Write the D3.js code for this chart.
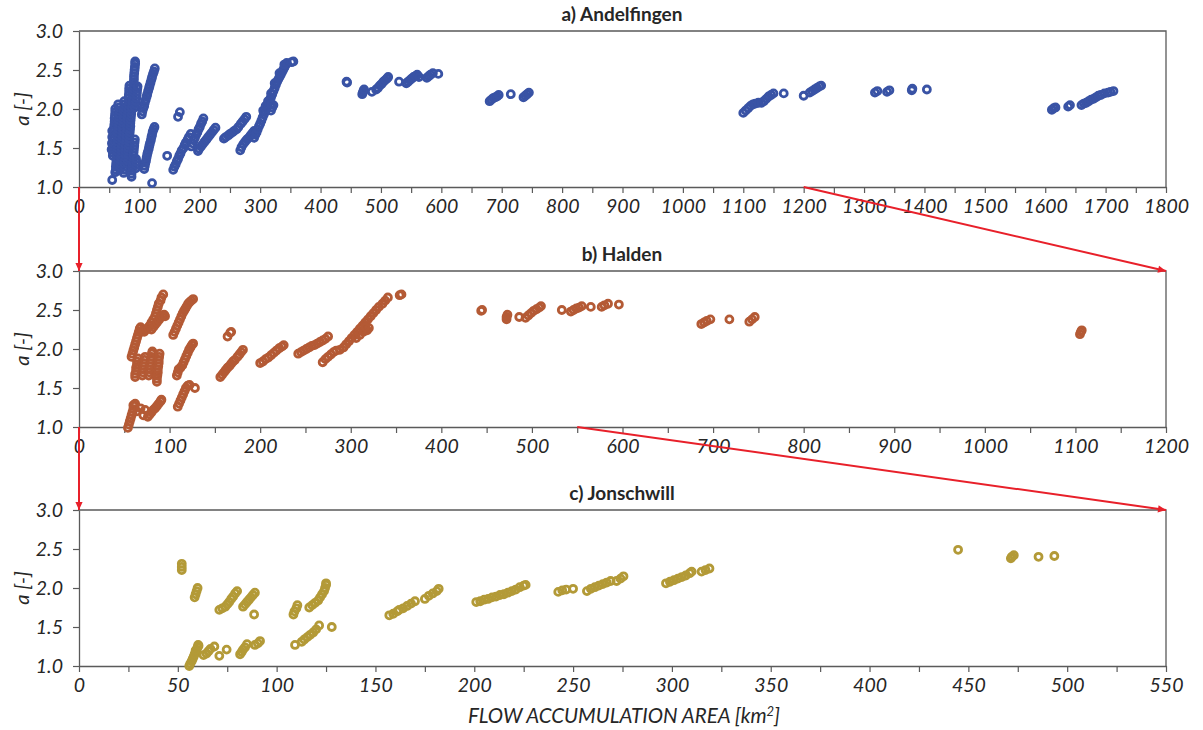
<!DOCTYPE html>
<html>
<head>
<meta charset="utf-8">
<script src="https://cdn.jsdelivr.net/npm/d3@7"></script>
<style>
  html, body { margin: 0; padding: 0; background: #fff; }
  svg { display: block; }
  text { font-family: Lato, "Open Sans", "Liberation Sans", sans-serif; fill: #262626; }
</style>
</head>
<body>
<svg id="chart" width="1203" height="730"></svg>
<script>
// ---- data: [flow accumulation area (km²), a (-)] ----
const panelTitles = ["a) Andelfingen", "b) Halden", "c) Jonschwill"];
const xDomainMax = [1800, 1200, 550];
const xLabelStep = [100, 100, 50];
const xTickStep = [50, 50, 25];
const yTicks = [1.0, 1.5, 2.0, 2.5, 3.0];
const xAxisTitle = "FLOW ACCUMULATION AREA [km";
const yAxisTitle = "a [-]";

const andelfingenPoints = [
  [55,1.09],[60,1.19],[121,1.05],
  [54,1.48],[54.5,1.56],[55,1.64],[55,1.72],
  [56,1.40],[56,1.44],[56.5,1.48],[57,1.52],[57,1.56],[57,1.60],[57.5,1.64],[58,1.68],[58,1.72],[58,1.76],[58.5,1.80],[59,1.84],[59,1.88],[59.5,1.92],[60,1.96],[60,2.00],
  [61,1.22],[61,1.26],[61.5,1.30],[62,1.34],[62,1.38],[62,1.42],[62.5,1.46],[63,1.50],[63,1.54],[63.5,1.58],[64,1.62],[64,1.66],[64,1.70],[64.5,1.74],[65,1.78],[65,1.82],[65.5,1.86],[66,1.90],[66,1.94],[66.5,1.98],[66,2.02],[65,2.06],
  [68,1.22],[68,1.26],[68.5,1.30],[69,1.34],[69,1.38],[69.5,1.42],[70,1.46],[70,1.50],[70.5,1.54],[71,1.58],[71,1.62],[71.5,1.66],[72,1.70],[72,1.74],[72.5,1.78],[73,1.82],[73,1.86],[73.5,1.90],[74,1.94],[74,1.98],[74.5,2.02],[75,2.06],[75,2.10],
  [74,1.18],[74.5,1.22],[75,1.26],[75,1.30],[75.5,1.34],[76,1.38],[76,1.42],[76.5,1.46],[77,1.50],[77,1.54],[77.5,1.58],[78,1.62],[78,1.66],[78.5,1.70],[79,1.74],[79,1.78],[79.5,1.82],[80,1.86],[80,1.90],[80.5,1.94],[81,1.98],[81,2.02],[81.5,2.06],[82,2.10],[82,2.14],[82.5,2.18],[83,2.22],[83,2.26],[83.5,2.30],
  [80,1.30],[80.5,1.34],[81,1.38],[81,1.42],[81.5,1.46],[82,1.50],[82.5,1.54],[83,1.58],[83,1.62],[83.5,1.66],[84,1.70],[84.5,1.74],[85,1.78],[85,1.82],[85.5,1.86],[86,1.90],[86.5,1.94],[87,1.98],[87,2.02],[87.5,2.06],[88,2.10],[88.5,2.14],[89,2.18],[89,2.22],[89.5,2.26],[90,2.30],[90.5,2.34],[91,2.38],[91,2.42],[91.5,2.46],[92,2.50],[92.5,2.54],[93,2.58],[93,2.61],
  [87,1.13],[87,1.17],[87.5,1.21],[88,1.25],[88.5,1.29],[89,1.33],[89.5,1.37],[90,1.41],[90.5,1.45],[91,1.49],[91.5,1.53],[92,1.57],[92.5,1.61],
  [94,1.24],[95,1.28],[95,1.32],[94.5,1.36],
  [92,2.02],[93,2.06],[94,2.10],[95,2.14],[95.5,2.18],[96,2.22],[96.5,2.26],[97,2.29],
  [104,1.93],[105,1.97],[106.5,2.01],[108,2.04],[109,2.08],[110.5,2.12],[112,2.16],[113,2.19],[114.5,2.23],[116,2.27],[117,2.30],[118.5,2.34],[120,2.38],[121,2.41],[122.5,2.45],[124,2.48],[125.5,2.52],
  [108,1.23],[109,1.27],[110,1.31],[111,1.34],[112,1.38],[113,1.42],[114,1.45],[115.5,1.49],[116.5,1.53],[117.5,1.56],[119,1.60],[120,1.64],[121,1.67],[122,1.71],[123.5,1.74],[125,1.77],
  [146,1.40],[164,1.90],[167,1.96],
  [156,1.22],[158,1.26],[160,1.29],[162,1.33],[164,1.36],[166,1.40],[168,1.43],[170,1.47],[173,1.50],[175,1.54],[177,1.57],[180,1.61],[182,1.64],[185,1.68],
  [186,1.52],[188,1.56],[190,1.60],[192,1.63],[194,1.67],[196,1.70],[198,1.74],[200,1.77],[202,1.81],[204,1.84],[206,1.88],
  [197,1.46],[199,1.49],[202,1.52],[205,1.55],[208,1.58],[211,1.61],[214,1.64],[217,1.67],[220,1.70],[223,1.73],[226,1.76],
  [240,1.62],[243,1.64],[247,1.66],[250,1.68],[254,1.70],[257,1.72],[261,1.74],[264,1.77],[268,1.81],[271,1.84],[274,1.87],[277,1.90],
  [267,1.47],[269,1.51],[272,1.55],[275,1.58],[278,1.61],[281,1.63],[284,1.66],[287,1.69],[290,1.72],
  [290,1.63],[292,1.67],[294,1.70],[296,1.74],[298,1.78],[300,1.81],[302,1.85],[304,1.89],[306,1.93],[308,1.96],[310,2.00],[312,2.04],[314,2.08],[316,2.12],[318,2.15],[320,2.19],[322,2.23],[324,2.27],[326,2.31],[328,2.35],[330,2.38],[332,2.41],[334,2.44],[336,2.47],[338,2.50],[340,2.53],[342,2.56],[344,2.59],
  [305,1.98],[309,2.04],[313,2.10],[318,2.20],[324,2.33],[332,2.46],[340,2.57],
  [318,1.98],[320,2.02],[322,2.05],[318,2.06],
  [352,2.60],[355,2.61],
  [443,2.35],[444,2.34],
  [469,2.19],[470,2.21],[471,2.23],[472,2.25],
  [485,2.22],
  [492,2.25],[495,2.27],[498,2.30],[501,2.32],[504,2.35],[507,2.37],[510,2.39],[512,2.41],
  [530,2.35],
  [542,2.33],[545,2.35],[548,2.37],[551,2.39],[554,2.41],[557,2.42],[560,2.44],
  [563,2.41],
  [576,2.40],[579,2.42],[582,2.44],[586,2.46],
  [595,2.45],
  [680,2.10],[683,2.12],[686,2.14],[689,2.15],[692,2.16],[695,2.18],
  [715,2.19],
  [736,2.15],[739,2.17],[742,2.19],[745,2.21],
  [1100,1.95],[1104,1.98],[1108,2.01],[1112,2.04],[1116,2.06],[1120,2.07],[1125,2.08],[1130,2.08],[1134,2.10],[1138,2.13],[1142,2.16],[1146,2.18],[1150,2.20],
  [1167,2.20],
  [1200,2.17],[1210,2.21],[1214,2.23],[1218,2.25],[1222,2.27],[1226,2.29],[1229,2.30],
  [1318,2.21],[1322,2.23],[1338,2.22],[1342,2.24],
  [1379,2.24],[1380,2.26],[1404,2.25],
  [1611,1.99],[1614,2.01],[1617,2.02],[1638,2.03],[1641,2.05],
  [1660,2.05],[1664,2.07],[1668,2.08],[1672,2.10],[1676,2.12],[1680,2.13],[1684,2.15],[1688,2.17],[1692,2.18],[1698,2.20],[1704,2.21],[1708,2.22],[1713,2.23]
];

const haldenPoints = [
  [54,0.99],[55,1.03],[56,1.07],[57,1.11],[58,1.15],[59,1.19],[60,1.23],[61,1.27],
  [60,1.28],[62,1.30],[64,1.20],[68,1.24],[71,1.15],[73,1.22],
  [76,1.13],[78,1.16],[80,1.19],[82,1.22],[84,1.24],[86,1.27],[88,1.30],[90,1.33],[91,1.35],
  [109,1.26],[110.5,1.30],[112,1.34],[113.5,1.38],[115,1.42],[116.5,1.46],[118,1.50],[120,1.53],[122,1.54],
  [128,1.50],
  [58,1.90],[59,1.94],[60,1.98],[61,2.02],[62,2.06],[63,2.10],[64,2.14],[65,2.18],[66,2.22],[67,2.26],[68,2.28],
  [68,2.22],[70,2.24],[72,2.22],[74,2.25],[76,2.27],[78,2.30],[80,2.34],[82,2.38],[84,2.42],[85,2.46],[86,2.50],[87,2.54],[88,2.58],[90,2.62],[91,2.66],[93,2.70],
  [80,2.25],[82,2.28],[84,2.31],[86,2.34],[88,2.37],[90,2.40],[92,2.42],[94,2.44],[95,2.42],
  [62,1.64],[62,1.68],[63,1.72],[63,1.76],[64,1.80],[64,1.84],[65,1.88],
  [70,1.66],[70.5,1.70],[71,1.74],[71.5,1.78],[72,1.82],[72.5,1.86],[73,1.90],
  [77,1.66],[77.5,1.70],[78,1.74],[78.5,1.78],[79,1.82],[79.5,1.86],[80,1.90],[80.5,1.94],[81,1.97],
  [86,1.58],[86,1.62],[86.5,1.66],[87,1.70],[87,1.74],[87.5,1.78],[88,1.82],[88,1.86],[88.5,1.90],[89,1.94],
  [104,2.18],[105.5,2.22],[107,2.26],[108.5,2.30],[110,2.34],[111.5,2.38],[113,2.42],[114.5,2.46],[116,2.49],[117.5,2.52],[119,2.55],[120.5,2.58],[122,2.60],[124,2.62],[126,2.64],
  [108,1.66],[109,1.70],[110,1.74],[112,1.76],[114,1.79],[115.5,1.83],[117,1.87],[118.5,1.91],[120,1.95],[121.5,1.99],[123,2.02],[124.5,2.05],[126,2.07],
  [164,2.16],[167,2.21],[168,2.22],
  [156,1.64],[158,1.67],[160,1.70],[162,1.73],[164,1.76],[166,1.78],[168,1.81],[170,1.84],[172,1.86],[175,1.90],[177,1.93],[179,1.96],[181,1.99],
  [200,1.82],[203,1.84],[206,1.87],[209,1.89],[212,1.92],[215,1.95],[218,1.98],[221,2.01],[224,2.03],[226,2.05],
  [242,1.94],[245,1.96],[248,1.98],[251,2.00],[254,2.02],[257,2.04],[260,2.05],[263,2.07],[266,2.09],[269,2.11],[272,2.13],[275,2.16],
  [269,1.83],[272,1.87],[275,1.90],[278,1.93],[281,1.96],[284,1.98],[288,1.99],
  [292,2.02],[295,2.06],[298,2.10],[301,2.14],[304,2.18],[307,2.22],[310,2.26],[313,2.30],[316,2.34],[319,2.38],[322,2.42],[325,2.46],[328,2.50],[331,2.54],[335,2.58],[338,2.62],[341,2.66],
  [306,2.14],[310,2.18],[314,2.22],[318,2.24],[320,2.27],[316,2.28],
  [354,2.69],[356,2.70],
  [444,2.49],[445,2.50],
  [472,2.38],[472,2.41],[473,2.44],
  [486,2.41],
  [493,2.40],[496,2.43],[499,2.46],[502,2.49],[505,2.51],[508,2.53],[510,2.55],
  [533,2.50],
  [543,2.48],[546,2.50],[549,2.52],[552,2.53],[555,2.55],
  [565,2.54],
  [577,2.54],[580,2.56],[584,2.58],
  [596,2.57],
  [687,2.32],[690,2.34],[693,2.36],[697,2.38],
  [718,2.38],
  [740,2.35],[743,2.38],[746,2.41],
  [1105,2.19],[1106,2.22],[1107,2.24]
];

const jonschwillPoints = [
  [52,2.23],[52,2.27],[52,2.31],
  [58.5,1.88],[59,1.92],[59.5,1.96],[60,2.00],
  [71,1.72],[72.5,1.74],[74,1.76],[75,1.79],[76,1.82],[77,1.86],[78,1.89],[79,1.93],[80,1.96],
  [83,1.76],[88.6,1.66],
  [84,1.79],[85,1.82],[86,1.85],[87,1.88],[88,1.91],[89,1.94],
  [108.5,1.66],[109,1.70],[110,1.74],[110.5,1.78],
  [116.5,1.75],[118,1.78],[119.5,1.81],[121,1.84],[122,1.88],[123,1.92],[124,1.96],[124.5,2.00],[125,2.04],[125,2.06],
  [157,1.65],[159,1.67],[161,1.70],[162,1.72],[164,1.74],[166,1.77],[168,1.80],[170,1.83],
  [175,1.86],[177,1.90],[179,1.93],[181,1.96],[182,1.99],
  [201,1.82],[203,1.83],[205,1.85],[207,1.86],[209,1.88],[211,1.89],[213,1.91],[215,1.92],[217,1.94],[219,1.96],[221,1.98],[223,2.01],[225,2.03],[226,2.04],
  [242.5,1.95],[244.5,1.97],[246.5,1.98],[250,1.99],
  [257,1.96],[259,1.99],[261,2.01],[263,2.03],[265,2.05],[267,2.07],[269,2.09],
  [272,2.09],[274,2.12],[275.5,2.15],
  [297,2.06],[299,2.08],[301,2.10],[303,2.12],[305,2.14],[307,2.16],[309,2.19],[310,2.21],
  [315,2.21],[317,2.23],[319,2.25],
  [55.8,1.00],[56.3,1.03],[57,1.06],[57.5,1.09],[58,1.12],[58.5,1.15],[59,1.18],[59.5,1.21],[60,1.24],[60.3,1.27],
  [59,1.20],[60.5,1.26],[63,1.14],[68.5,1.25],[71,1.13],[74.7,1.21],
  [64.5,1.16],[65.5,1.19],[66.5,1.22],
  [81.5,1.15],[82.3,1.18],[83,1.21],[84,1.24],[85,1.28],
  [89,1.27],[90.5,1.29],[91.6,1.32],
  [109.3,1.27],[112.7,1.31],[114,1.34],[115.5,1.37],[117,1.40],[118.5,1.43],[120,1.47],[121.5,1.52],[127.9,1.50],
  [444.8,2.49],[471.5,2.38],[472,2.40],[473,2.42],[485.5,2.40],[493.5,2.41]
];

const panelSeries = [andelfingenPoints, haldenPoints, jonschwillPoints];

// ---- layout ----
const svg = d3.select("#chart");
const plotLeft = 79, plotRight = 1166, plotH = 156;
const panelTop = [31, 271, 510];
const seriesColor = ["#3953a5", "#b45a35", "#b39a37"];
const axisColor = "#5a5a5a";
const arrowColor = "#e8202a";

svg.append("defs").append("marker")
  .attr("id", "arrowHead")
  .attr("viewBox", "0 0 10 10")
  .attr("refX", 10).attr("refY", 5)
  .attr("markerUnits", "userSpaceOnUse")
  .attr("markerWidth", 9).attr("markerHeight", 8)
  .attr("orient", "auto")
  .append("path").attr("d", "M0,0.5 L10,5 L0,9.5 Z").attr("fill", arrowColor);

const xScales = [], yScales = [];

panelTitles.forEach((title, i) => {
  const x = d3.scaleLinear().domain([0, xDomainMax[i]]).range([plotLeft, plotRight]);
  const y = d3.scaleLinear().domain([1, 3]).range([panelTop[i] + plotH, panelTop[i]]);
  xScales.push(x); yScales.push(y);

  const g = svg.append("g");

  // frame: top and right edges
  g.append("path")
    .attr("d", `M${plotLeft},${y(3)}H${plotRight}V${y(1)}`)
    .attr("fill", "none").attr("stroke", axisColor).attr("stroke-width", 1.3);

  const xAxis = d3.axisBottom(x)
    .tickValues(d3.range(0, xDomainMax[i] + 1, xTickStep[i]))
    .tickFormat(d => (d % xLabelStep[i] === 0 ? d : ""))
    .tickSize(6).tickSizeOuter(0).tickPadding(6);
  const gx = g.append("g").attr("transform", `translate(0,${y(1)})`).call(xAxis);

  const yAxis = d3.axisLeft(y)
    .tickValues(yTicks)
    .tickFormat(d3.format(".1f"))
    .tickSize(6).tickSizeOuter(0).tickPadding(10);
  const gy = g.append("g").attr("transform", `translate(${plotLeft},0)`).call(yAxis);

  [gx, gy].forEach(a => {
    a.select(".domain").attr("stroke", axisColor).attr("stroke-width", 1.3);
    a.selectAll(".tick line").attr("stroke", axisColor).attr("stroke-width", 1.2);
    a.selectAll(".tick text")
      .style("font-family", "Lato, 'Open Sans', sans-serif")
      .style("font-style", "italic")
      .style("font-size", "19.5px")
      .attr("fill", "#262626");
  });

  // y axis title
  g.append("text")
    .attr("transform", `translate(29,${(y(1) + y(3)) / 2}) rotate(-90)`)
    .attr("text-anchor", "middle")
    .style("font-style", "italic")
    .style("font-size", "20px")
    .text(yAxisTitle);

  // panel title
  g.append("text")
    .attr("x", 622).attr("y", y(3) - 10)
    .attr("text-anchor", "middle")
    .style("font-weight", "bold")
    .style("font-size", "19px")
    .text(title);

  // points: open circles
  g.append("g").selectAll("circle")
    .data(panelSeries[i])
    .join("circle")
    .attr("cx", d => x(d[0]))
    .attr("cy", d => y(d[1]))
    .attr("r", 3.5)
    .attr("fill", "none")
    .attr("stroke", seriesColor[i])
    .attr("stroke-width", 2.8);
});

// zoom-link arrows between consecutive panels
const arrows = svg.append("g");
for (let i = 0; i < panelTitles.length - 1; i++) {
  const xs = xScales[i], ys = yScales[i];
  const xn = xScales[i + 1], yn = yScales[i + 1];
  const links = [
    [xs(0), ys(1), xn(0), yn(3)],
    [xs(xDomainMax[i + 1]), ys(1), xn(xDomainMax[i + 1]), yn(3)]
  ];
  links.forEach(([x1, y1, x2, y2]) => {
    arrows.append("line")
      .attr("x1", x1).attr("y1", y1).attr("x2", x2).attr("y2", y2)
      .attr("stroke", arrowColor).attr("stroke-width", 2)
      .attr("marker-end", "url(#arrowHead)");
  });
}

// x axis title
const xt = svg.append("text")
  .attr("x", 624).attr("y", 723)
  .attr("text-anchor", "middle")
  .style("font-style", "italic")
  .style("font-size", "20.5px")
  .text(xAxisTitle);
xt.append("tspan").attr("dy", -7).style("font-size", "13px").text("2");
xt.append("tspan").attr("dy", 7).text("]");
</script>
</body>
</html>
